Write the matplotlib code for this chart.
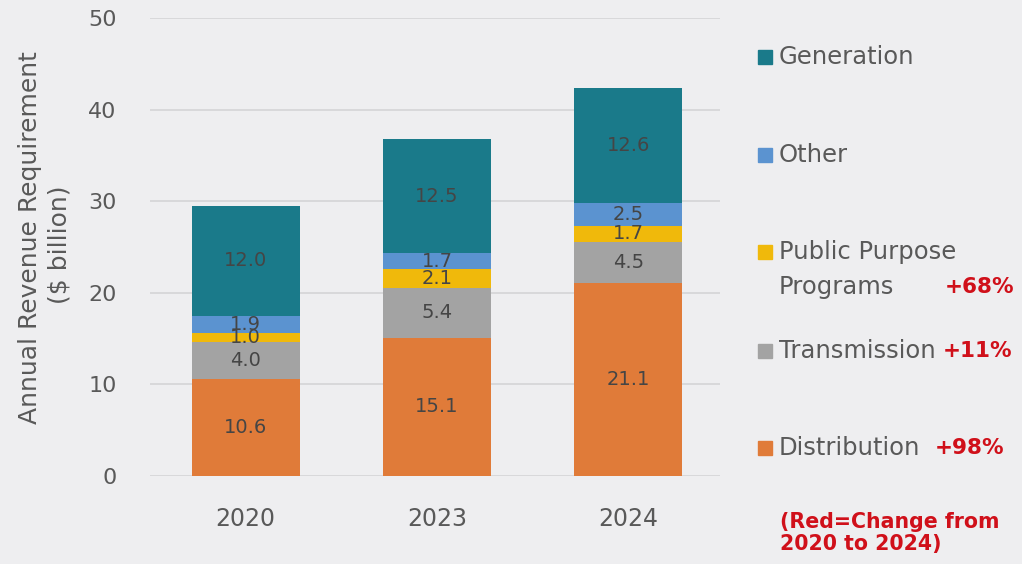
import matplotlib.pyplot as plt
import numpy as np
from matplotlib.patches import Rectangle

years = ["2020", "2023", "2024"]
series = ["Distribution", "Transmission", "Public Purpose\nPrograms", "Other", "Generation"]
distribution = [10.6, 15.1, 21.1]
transmission = [4.0, 5.4, 4.5]
public_purpose = [1.0, 2.1, 1.7]
other = [1.9, 1.7, 2.5]
generation = [12.0, 12.5, 12.6]
changes = ["+98%", "+11%", "+68%", "", ""]

colors = ["#e07b39", "#a3a3a3", "#f0b90b", "#5b93d0", "#1a7a8a"]
bg = "#eeeef0"
text_gray = "#595959"
red = "#d0101a"

plt.rcParams["font.family"] = "DejaVu Sans"

W, H = 1022, 564
fig = plt.figure(figsize=(W / 100, H / 100), dpi=100, facecolor=bg)
ax = fig.add_axes([150 / W, 1 - 476 / H, 570 / W, 458 / H], facecolor=bg)

values = [distribution, transmission, public_purpose, other, generation]
x = np.arange(len(years))
bottom = np.zeros(len(years))
for vals, color in zip(values, colors):
    ax.bar(x, vals, 0.565, bottom=bottom, color=color, zorder=3)
    for xi, b, v in zip(x, bottom, vals):
        ax.text(xi, b + v / 2, f"{v:.1f}", ha="center", va="center",
                fontsize=14, color="#454545", zorder=4)
    bottom += np.array(vals)

ax.set_xlim(-0.5, 2.48)
ax.set_ylim(0, 50)
ax.set_yticks(range(0, 51, 10))
ax.set_xticks(x)
ax.set_xticklabels(years)
ax.grid(True, axis="y", color="#d4d4d6", linewidth=1.2, zorder=0)
ax.tick_params(length=0, labelsize=16, colors=text_gray)
ax.tick_params(axis="y", pad=24)
ax.tick_params(axis="x", pad=22, labelsize=17)
for s in ax.spines.values():
    s.set_visible(False)

fig.text(30 / W, 1 - 238 / H, "Annual Revenue Requirement", rotation=90,
         ha="center", va="center", fontsize=18, color=text_gray)
fig.text(60 / W, 1 - 245 / H, "($ billion)", rotation=90,
         ha="center", va="center", fontsize=18, color=text_gray)

# legend drawn by hand, one entry per series
legend_y = [448, 351, 252, 155, 57]
change_x = [935, 943, 945, 0, 0]
line_gap = 35
for name, color, ly, ch, cx in zip(series, colors, legend_y, changes, change_x):
    fig.add_artist(Rectangle((758 / W, 1 - (ly + 7) / H), 14 / W, 14 / H,
                             transform=fig.transFigure, color=color))
    lines = name.split("\n")
    for i, line in enumerate(lines):
        fig.text(779 / W, 1 - (ly + i * line_gap) / H, line, ha="left", va="center",
                 fontsize=17.5, color=text_gray)
    if ch:
        cy = ly + (len(lines) - 1) * line_gap
        fig.text(cx / W, 1 - cy / H, ch, ha="left", va="center",
                 fontsize=15.5, color=red, fontweight="bold")

fig.text(780 / W, 1 - 533 / H, "(Red=Change from\n2020 to 2024)", ha="left", va="center",
         fontsize=14.8, color=red, fontweight="bold", linespacing=1.1)

fig.savefig("out.png", dpi=100, facecolor=bg)
